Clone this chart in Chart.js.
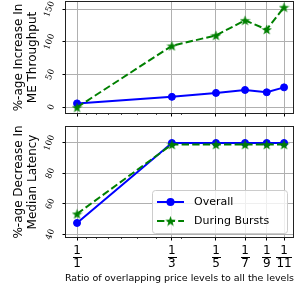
<!DOCTYPE html>
<html>
<head>
<meta charset="utf-8">
<script src="https://cdn.jsdelivr.net/npm/chart.js@4.4.0/dist/chart.umd.min.js"></script>
<style>
body{margin:0;background:#fff}
#wrap{position:relative;width:294px;height:290px;overflow:hidden}
#topBox{position:absolute;left:0;top:0}
#botBox{position:absolute;left:0;top:120px}
</style>
</head>
<body>
<div id="wrap">
  <div id="topBox"><canvas id="thrChart" width="294" height="120"></canvas></div>
  <div id="botBox"><canvas id="latChart" width="294" height="170"></canvas></div>
</div>
<script>
// x values are the denominators of the overlap ratio 1/n
const denominators = [1, 3, 5, 7, 9, 11];
const minorTicks = [1/0.9, 1/0.8, 1/0.7, 1/0.6, 1/0.5, 1/0.4, 1/0.3];
const throughputOverall = [6, 16, 22, 26.5, 23, 30.5];
const throughputBursts = [0, 94, 110, 133, 119, 153];
const latencyOverall = [47.5, 100, 100, 100, 100, 100];
const latencyBursts = [53.5, 99, 99, 99, 99, 99];
const throughputTicks = [0, 50, 100, 150];
const latencyTicks = [40, 60, 80, 100];
const seriesNames = ['Overall', 'During Bursts'];
const xTitle = 'Ratio of overlapping price levels to all the levels';

const BLUE = '#0000ff', GREEN = '#008000';

function starImage(size, color) {
    const c = document.createElement('canvas');
    c.width = c.height = size;
    const g = c.getContext('2d');
    g.fillStyle = color;
    g.beginPath();
    for (let i = 0; i < 10; i++) {
        let r = i % 2 ? size * 0.2 : size / 2;
        let a = -Math.PI / 2 + i * Math.PI / 5;
        g.lineTo(size / 2 + r * Math.cos(a), size / 2 + 0.6 + r * Math.sin(a));
    }
    g.closePath();
    g.fill();
    return c;
}
const star = starImage(11, GREEN);

function points(arr) {
    return denominators.map((n, i) => ({x: n, y: arr[i]}));
}

const decor = {
    id: 'decor',
    afterDraw(chart, args, o) {
        const ctx = chart.ctx, a = chart.chartArea;
        const xs = chart.scales.x, ys = chart.scales.y;
        ctx.save();
        // minor ticks on log x axis
        ctx.strokeStyle = '#000';
        ctx.lineWidth = 0.7;
        minorTicks.forEach(v => {
            let px = Math.round(xs.getPixelForValue(v)) + 0.5;
            ctx.beginPath();
            ctx.moveTo(px, a.bottom);
            ctx.lineTo(px, a.bottom + 2);
            ctx.stroke();
        });
        // frame
        ctx.lineWidth = 1;
        ctx.strokeStyle = '#222';
        ctx.strokeRect(Math.round(a.left) - 0.5, Math.round(a.top) - 0.5,
            Math.round(a.right - a.left) + 1, Math.round(a.bottom - a.top) + 1);
        // rotated y tick labels
        ctx.fillStyle = '#000';
        ctx.font = '8.5px "DejaVu Serif"';
        const ang = 70 * Math.PI / 180;
        o.yTicks.forEach(v => {
            let py = ys.getPixelForValue(v);
            let w = ctx.measureText(String(v)).width;
            let bw = w * Math.cos(ang) + 6 * Math.sin(ang);
            ctx.save();
            ctx.translate(55 - bw / 2, py);
            ctx.rotate(-ang);
            ctx.textAlign = 'center';
            ctx.textBaseline = 'middle';
            ctx.fillText(String(v), 0, 0);
            ctx.restore();
        });
        // y title, two lines
        ctx.font = '12px "DejaVu Sans"';
        let cy = (a.top + a.bottom) / 2;
        o.yTitle.forEach((t, i) => {
            ctx.save();
            ctx.translate(22 + i * 13.5, cy);
            ctx.rotate(-Math.PI / 2);
            ctx.textAlign = 'center';
            ctx.textBaseline = 'alphabetic';
            ctx.fillText(t, 0, 0);
            ctx.restore();
        });
        if (o.bottom) {
            // fraction tick labels 1/n
            ctx.font = '12px "DejaVu Sans"';
            ctx.textAlign = 'center';
            ctx.textBaseline = 'middle';
            denominators.forEach(n => {
                let px = xs.getPixelForValue(n);
                let den = String(n);
                let w = Math.max(ctx.measureText('1').width, ctx.measureText(den).width) + 1;
                ctx.fillText('1', px, a.bottom + 14);
                ctx.fillRect(Math.round(px - w / 2), Math.round(a.bottom + 20), Math.round(w), 1);
                ctx.fillText(den, px, a.bottom + 27);
            });
            ctx.font = '9.5px "DejaVu Sans"';
            ctx.fillText(xTitle, (a.left + a.right) / 2, a.bottom + 42);
            // legend
            let lx = 152.5, ly = 70.5, lw = 135, lh = 43;
            ctx.beginPath();
            ctx.roundRect(lx, ly, lw, lh, 3);
            ctx.fillStyle = 'rgba(255,255,255,0.8)';
            ctx.fill();
            ctx.strokeStyle = '#cccccc';
            ctx.lineWidth = 1;
            ctx.stroke();
            ctx.font = '11px "DejaVu Sans"';
            ctx.textAlign = 'left';
            ctx.fillStyle = '#000';
            let rows = [82, 101];
            // Overall row
            ctx.strokeStyle = BLUE;
            ctx.lineWidth = 2;
            ctx.beginPath();
            ctx.moveTo(157, rows[0]);
            ctx.lineTo(184, rows[0]);
            ctx.stroke();
            ctx.fillStyle = BLUE;
            ctx.beginPath();
            ctx.arc(170.5, rows[0], 4, 0, Math.PI * 2);
            ctx.fill();
            // During Bursts row
            ctx.strokeStyle = GREEN;
            ctx.setLineDash([7.4, 3.2]);
            ctx.beginPath();
            ctx.moveTo(157, rows[1]);
            ctx.lineTo(184, rows[1]);
            ctx.stroke();
            ctx.setLineDash([]);
            ctx.drawImage(star, 170.5 - 5.5, rows[1] - 5.5);
            ctx.fillStyle = '#000';
            ctx.fillText(seriesNames[0], 194, rows[0]);
            ctx.fillText(seriesNames[1], 194, rows[1]);
        }
        ctx.restore();
    }
};

function makeChart(id, overall, bursts, yTicks, yMin, yMax, yTitle, bottom) {
    const gridOpts = {
        color: '#b0b0b0',
        lineWidth: 1,
        tickColor: '#000',
        tickLength: 3.5,
        tickWidth: 1
    };
    return new Chart(document.getElementById(id), {
        type: 'line',
        data: {
            datasets: [
                {
                    label: seriesNames[0],
                    data: points(overall),
                    borderColor: BLUE,
                    backgroundColor: BLUE,
                    borderWidth: 2,
                    pointRadius: 3.5,
                    pointBorderWidth: 1,
                    pointStyle: 'circle',
                    clip: false,
                    order: 2
                },
                {
                    label: seriesNames[1],
                    data: points(bursts),
                    borderColor: GREEN,
                    backgroundColor: GREEN,
                    borderWidth: 2,
                    borderDash: [7.4, 3.2],
                    pointStyle: star,
                    pointRadius: 5,
                    clip: false,
                    order: 1
                }
            ]
        },
        options: {
            responsive: false,
            animation: false,
            layout: {autoPadding: false, padding: {top: bottom ? 7 : 2, right: 1, left: 0, bottom: 0}},
            plugins: {
                legend: {display: false},
                tooltip: {enabled: false},
                decor: {yTicks: yTicks, yTitle: yTitle, bottom: bottom}
            },
            scales: {
                x: {
                    type: 'logarithmic',
                    min: 0.88,
                    max: 12.2,
                    afterBuildTicks: s => { s.ticks = denominators.map(v => ({value: v})); },
                    afterFit: s => { s.height = bottom ? 53 : 7; },
                    ticks: {display: false},
                    grid: gridOpts,
                    border: {display: false}
                },
                y: {
                    type: 'linear',
                    min: yMin,
                    max: yMax,
                    afterBuildTicks: s => { s.ticks = yTicks.map(v => ({value: v})); },
                    afterFit: s => { s.width = 66; },
                    ticks: {display: false},
                    grid: gridOpts,
                    border: {display: false}
                }
            }
        },
        plugins: [decor]
    });
}

makeChart('thrChart', throughputOverall, throughputBursts, throughputTicks, -8.7, 161,
    ['%-age Increase In', 'ME Throughput'], false);
makeChart('latChart', latencyOverall, latencyBursts, latencyTicks, 38.3, 110.5,
    ['%-age Decrease In', 'Median Latency'], true);
</script>
</body>
</html>
